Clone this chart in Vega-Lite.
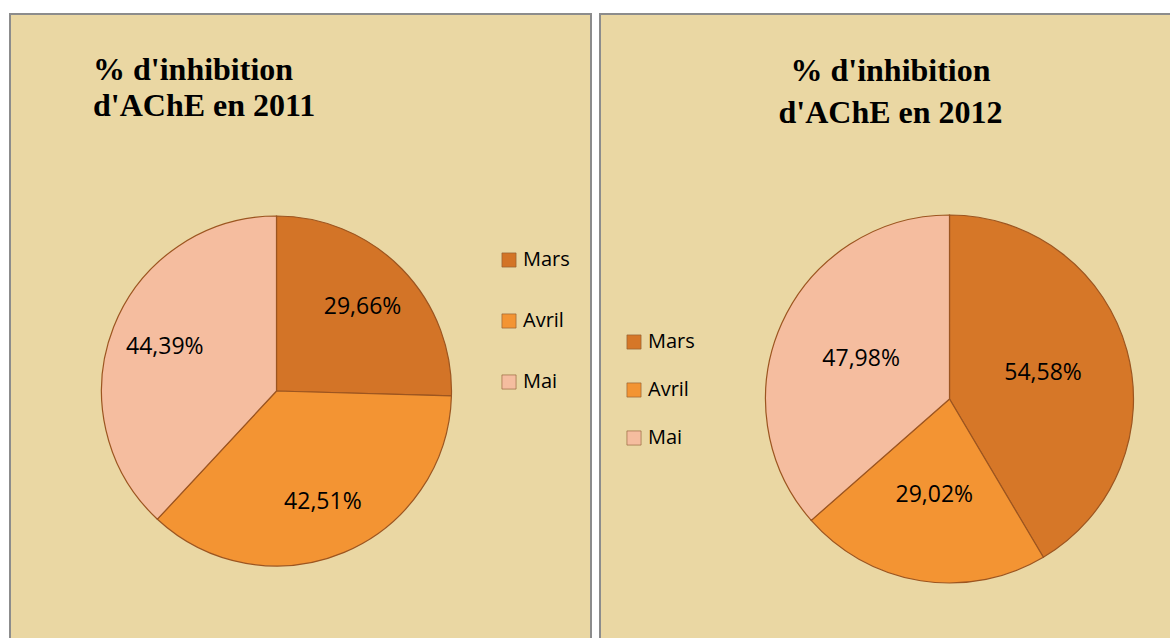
{
  "$schema": "https://vega.github.io/schema/vega-lite/v6.json",
  "background": "white",
  "padding": {"left": 9, "top": 13, "right": 0, "bottom": 0},
  "spacing": 7,
  "config": {
    "legend": {
      "orient": "none",
      "title": null,
      "padding": 0,
      "symbolType": "square",
      "symbolSize": 200,
      "symbolStrokeColor": "#8a5a30",
      "symbolStrokeWidth": 0.6,
      "labelFont": "Open Sans",
      "labelFontSize": 20,
      "labelColor": "black",
      "labelOffset": 4
    }
  },
  "datasets": {
    "y2011": [
      {"mois": "Mars", "ordre": 1, "valeur": 29.66, "etiquette": "29,66%"},
      {"mois": "Avril", "ordre": 2, "valeur": 42.51, "etiquette": "42,51%"},
      {"mois": "Mai", "ordre": 3, "valeur": 44.39, "etiquette": "44,39%"}
    ],
    "y2012": [
      {"mois": "Mars", "ordre": 1, "valeur": 54.58, "etiquette": "54,58%"},
      {"mois": "Avril", "ordre": 2, "valeur": 29.02, "etiquette": "29,02%"},
      {"mois": "Mai", "ordre": 3, "valeur": 47.98, "etiquette": "47,98%"}
    ]
  },
  "hconcat": [
    {
      "width": 581,
      "height": 754,
      "view": {"fill": "#ead7a3", "stroke": "#8c8c8c", "strokeWidth": 2},
      "title": {
        "text": ["% d'inhibition", "d'AChE en 2011"],
        "anchor": "start",
        "font": "Liberation Serif",
        "fontSize": 32,
        "fontWeight": "bold",
        "color": "black",
        "lineHeight": 36,
        "baseline": "alphabetic",
        "offset": -134,
        "dx": 83
      },
      "data": {"name": "y2011"},
      "encoding": {
        "theta": {"field": "valeur", "type": "quantitative", "stack": true},
        "order": {"field": "ordre", "type": "quantitative"}
      },
      "layer": [
        {
          "mark": {"type": "arc", "radius": 175, "x": {"expr": "concat_0_width/2 - 24"}, "stroke": "#9c5520", "strokeWidth": 1.2},
          "encoding": {
            "color": {
              "field": "mois",
              "type": "nominal",
              "scale": {"domain": ["Mars", "Avril", "Mai"], "range": ["#d37427", "#f39433", "#f5bd9f"]},
              "legend": {"legendX": 489, "legendY": 236, "rowPadding": 41}
            }
          }
        },
        {
          "mark": {"type": "text", "radius": 120, "x": {"expr": "concat_0_width/2 - 24"}, "font": "Open Sans", "fontSize": 23, "fill": "black"},
          "encoding": {"text": {"field": "etiquette", "type": "nominal"}}
        }
      ]
    },
    {
      "width": 571,
      "height": 770,
      "view": {"fill": "#ead7a3", "stroke": "#8c8c8c", "strokeWidth": 2},
      "title": {
        "text": ["% d'inhibition", "d'AChE en 2012"],
        "anchor": "middle",
        "font": "Liberation Serif",
        "fontSize": 32,
        "fontWeight": "bold",
        "color": "black",
        "lineHeight": 42,
        "baseline": "alphabetic",
        "offset": -141,
        "dx": 5
      },
      "data": {"name": "y2012"},
      "encoding": {
        "theta": {"field": "valeur", "type": "quantitative", "stack": true},
        "order": {"field": "ordre", "type": "quantitative"}
      },
      "layer": [
        {
          "mark": {"type": "arc", "radius": 184, "x": {"expr": "concat_1_width/2 + 64"}, "stroke": "#9c5520", "strokeWidth": 1.2},
          "encoding": {
            "color": {
              "field": "mois",
              "type": "nominal",
              "scale": {"domain": ["Mars", "Avril", "Mai"], "range": ["#d67728", "#f39433", "#f5bd9f"]},
              "legend": {"legendX": 24, "legendY": 318, "rowPadding": 28}
            }
          }
        },
        {
          "mark": {"type": "text", "radius": 97, "x": {"expr": "concat_1_width/2 + 64"}, "font": "Open Sans", "fontSize": 23, "fill": "black"},
          "encoding": {"text": {"field": "etiquette", "type": "nominal"}}
        }
      ]
    }
  ],
  "resolve": {"scale": {"color": "independent", "theta": "independent"}, "legend": {"color": "independent"}}
}
